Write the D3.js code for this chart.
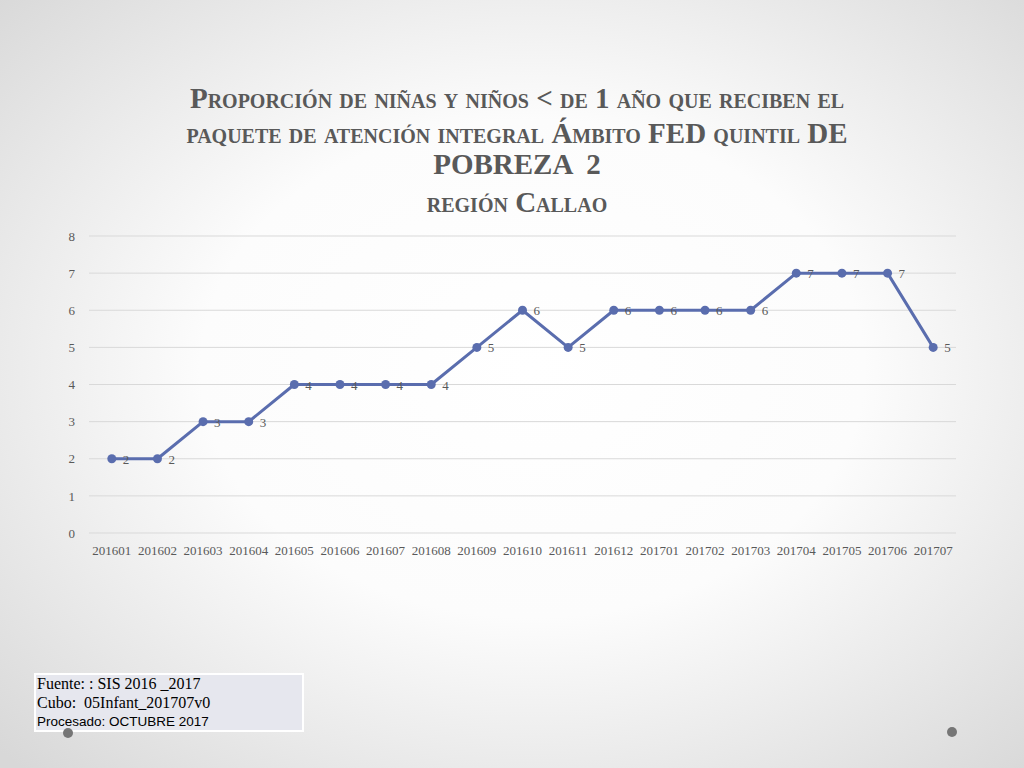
<!DOCTYPE html>
<html>
<head>
<meta charset="utf-8">
<script src="https://cdn.jsdelivr.net/npm/d3@7"></script>
<style>
  body { margin: 0; overflow: hidden; }
  svg { display: block; }
  text { white-space: pre; }
</style>
</head>
<body>
<script>
var months = ["201601","201602","201603","201604","201605","201606","201607","201608","201609","201610",
              "201611","201612","201701","201702","201703","201704","201705","201706","201707"];
var values = [2,2,3,3,4,4,4,4,5,6,5,6,6,6,6,7,7,7,5];
var yTicks = [0,1,2,3,4,5,6,7,8];
var titleLines = [
  "Proporción de niñas y niños < de 1 año que reciben el",
  "paquete de atención integral Ámbito FED quintil DE",
  "POBREZA  2",
  "región Callao"
];
var notes = [
  {text: "Fuente: : SIS 2016 _2017", serif: true},
  {text: "Cubo:  05Infant_201707v0", serif: true},
  {text: "Procesado: OCTUBRE 2017", serif: false}
];

var W = 1024, H = 768;
var svg = d3.select("body").append("svg").attr("width", W).attr("height", H);

var defs = svg.append("defs");
var grad = defs.append("radialGradient").attr("id", "bg")
    .attr("cx", "52%").attr("cy", "48%").attr("r", "72%");
grad.append("stop").attr("offset", "0%").attr("stop-color", "#ffffff");
grad.append("stop").attr("offset", "45%").attr("stop-color", "#fcfcfc");
grad.append("stop").attr("offset", "100%").attr("stop-color", "#d8d8d8");
svg.append("rect").attr("width", W).attr("height", H).attr("fill", "url(#bg)");

// title
var titleY = [108, 143, 174, 212];
svg.append("g").selectAll("text")
    .data(titleLines).enter().append("text")
    .attr("x", 517).attr("y", (d, i) => titleY[i])
    .attr("text-anchor", "middle")
    .style("font-family", "'Liberation Serif', serif")
    .style("font-size", "29px")
    .style("font-weight", "bold")
    .style("font-variant", "small-caps")
    .style("fill", "#595959")
    .text(d => d);

// chart
var plotLeft = 89, plotRight = 956, plotTop = 236, plotBottom = 533;
var x = d3.scaleBand().domain(months).range([plotLeft, plotRight]);
var y = d3.scaleLinear().domain([0, 8]).range([plotBottom, plotTop]);

var g = svg.append("g");

g.append("g").selectAll("line")
    .data(yTicks).enter().append("line")
    .attr("x1", plotLeft).attr("x2", plotRight)
    .attr("y1", d => y(d)).attr("y2", d => y(d))
    .style("stroke", "#d9d9d9").style("stroke-width", 1);

var yAxis = g.append("g").attr("transform", "translate(" + plotLeft + ",0)")
    .call(d3.axisLeft(y).tickValues(yTicks).tickSize(0).tickPadding(14));
var xAxis = g.append("g").attr("transform", "translate(0," + plotBottom + ")")
    .call(d3.axisBottom(x).tickSize(0).tickPadding(13));
[xAxis, yAxis].forEach(function(a) {
  a.select(".domain").remove();
  a.selectAll("text")
      .style("font-family", "'Liberation Serif', serif")
      .style("font-size", "13px")
      .style("fill", "#595959");
});

var cx = d => x(d.m) + x.bandwidth() / 2;
var pts = months.map((m, i) => ({m: m, v: values[i]}));

g.append("path")
    .attr("d", d3.line().x(cx).y(d => y(d.v))(pts))
    .attr("fill", "none").attr("stroke", "#5a6dae").attr("stroke-width", 3)
    .attr("stroke-linejoin", "round");

g.selectAll("circle.pt")
    .data(pts).enter().append("circle")
    .attr("class", "pt")
    .attr("cx", cx).attr("cy", d => y(d.v)).attr("r", 4.5)
    .attr("fill", "#5a6dae");

g.selectAll("text.lbl")
    .data(pts).enter().append("text")
    .attr("class", "lbl")
    .attr("x", d => cx(d) + 11).attr("y", d => y(d.v) + 5)
    .style("font-family", "'Liberation Serif', serif")
    .style("font-size", "13px")
    .style("fill", "#595959")
    .text(d => d.v);

// source note
var note = svg.append("g");
note.append("rect").attr("x", 35).attr("y", 674).attr("width", 268).attr("height", 57)
    .attr("fill", "#e6e7ee").attr("stroke", "#ffffff").attr("stroke-width", 2);
note.selectAll("text")
    .data(notes).enter().append("text")
    .attr("x", 37).attr("y", (d, i) => 689 + i * 18.5)
    .style("font-family", d => d.serif ? "'Liberation Serif', serif" : "'Liberation Sans', sans-serif")
    .style("font-size", d => d.serif ? "16px" : "13.5px")
    .style("fill", "#000")
    .text(d => d.text);

// slide dots
svg.selectAll("circle.dot")
    .data([[68, 733], [952, 732]]).enter().append("circle")
    .attr("class", "dot")
    .attr("cx", d => d[0]).attr("cy", d => d[1]).attr("r", 5)
    .attr("fill", "#767676");
</script>
</body>
</html>
